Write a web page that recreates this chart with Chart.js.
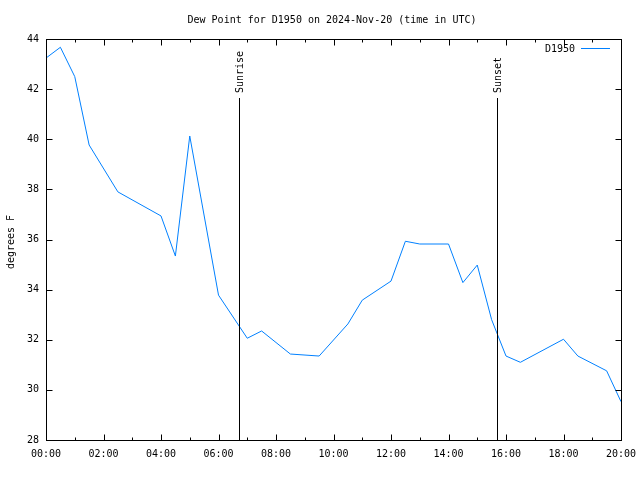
<!DOCTYPE html>
<html>
<head>
<meta charset="utf-8">
<script src="https://cdn.jsdelivr.net/npm/chart.js@4/dist/chart.umd.min.js"></script>
<style>html,body{margin:0;padding:0;background:#fff;}canvas{display:block;}</style>
</head>
<body>
<canvas id="c" width="640" height="480"></canvas>
<script>
// Data (hours since 00:00 UTC, dew point in °F)
const times = [0, 0.5, 1, 1.5, 2.5, 4, 4.5, 5, 6, 7, 7.5, 8.5, 9.5, 10.5, 11, 12, 12.5, 13, 14, 14.5, 15, 15.5, 16, 16.5, 18, 18.5, 19.5, 20];
const dewPoint = [43.24, 43.67, 42.5, 39.77, 37.9, 36.94, 35.34, 40.13, 33.78, 32.06, 32.35, 31.43, 31.35, 32.63, 33.58, 34.34, 35.93, 35.82, 35.82, 34.28, 34.98, 32.8, 31.35, 31.1, 32.02, 31.35, 30.76, 29.53];
const yTicks = [28, 30, 32, 34, 36, 38, 40, 42, 44];
const xTickLabels = ['00:00','02:00','04:00','06:00','08:00','10:00','12:00','14:00','16:00','18:00','20:00'];
const sunEvents = [{label: 'Sunrise', t: 6.713}, {label: 'Sunset', t: 15.69}];
const titleText = 'Dew Point for D1950 on 2024-Nov-20 (time in UTC)';
const seriesName = 'D1950';
const yTitle = 'degrees F';

const FONT = '10px "DejaVu Sans Mono", "Liberation Mono", monospace';
const LINE_COLOR = 'rgb(0,128,255)';

const points = times.map((t, i) => ({x: t, y: dewPoint[i]}));

const overlay = {
  id: 'overlay',
  afterDraw(chart) {
    const ctx = chart.ctx;
    const xs = chart.scales.x, ys = chart.scales.y;
    const L = Math.round(xs.left) + 0.5, R = Math.round(xs.right) + 0.5;
    const T = Math.round(ys.top) + 0.5, B = Math.round(ys.bottom) + 0.5;
    ctx.save();
    ctx.strokeStyle = '#000';
    ctx.lineWidth = 1;
    // ticks
    ctx.beginPath();
    for (let h = 1; h < 20; h++) {
      const px = Math.round(xs.getPixelForValue(h)) + 0.5;
      const len = (h % 2 === 0) ? 6 : 3;
      ctx.moveTo(px, B); ctx.lineTo(px, B - len);
      ctx.moveTo(px, T); ctx.lineTo(px, T + len);
    }
    yTicks.forEach(v => {
      if (v === 28 || v === 44) return;
      const py = Math.round(ys.getPixelForValue(v)) + 0.5;
      ctx.moveTo(L, py); ctx.lineTo(L + 6, py);
      ctx.moveTo(R, py); ctx.lineTo(R - 6, py);
    });
    ctx.stroke();
    // sunrise/sunset
    ctx.font = FONT;
    ctx.fillStyle = '#000';
    sunEvents.forEach(ev => {
      const px = Math.round(xs.getPixelForValue(ev.t)) + 0.5;
      ctx.beginPath();
      ctx.moveTo(px, B); ctx.lineTo(px, 98);
      ctx.stroke();
      ctx.save();
      ctx.translate(px + 1, 93);
      ctx.rotate(-Math.PI / 2);
      ctx.textAlign = 'left';
      ctx.textBaseline = 'middle';
      ctx.fillText(ev.label, 0, 0);
      ctx.restore();
    });
    // border
    ctx.strokeRect(L, T, R - L, B - T);
    // title
    ctx.textAlign = 'center';
    ctx.textBaseline = 'middle';
    ctx.fillText(titleText, 332, 20);
    // y title
    ctx.save();
    ctx.translate(11, 242);
    ctx.rotate(-Math.PI / 2);
    ctx.fillText(yTitle, 0, 0);
    ctx.restore();
    // legend
    ctx.textAlign = 'right';
    ctx.fillText(seriesName, 575, 49);
    ctx.strokeStyle = LINE_COLOR;
    ctx.beginPath();
    ctx.moveTo(581, 48.5); ctx.lineTo(610, 48.5);
    ctx.stroke();
    ctx.restore();
  }
};

new Chart(document.getElementById('c'), {
  type: 'line',
  data: {
    datasets: [{
      label: seriesName,
      data: points,
      borderColor: LINE_COLOR,
      borderWidth: 1,
      pointRadius: 0,
      tension: 0,
      fill: false
    }]
  },
  options: {
    responsive: false,
    animation: false,
    devicePixelRatio: 1,
    layout: {padding: {top: 39, right: 19, left: 0, bottom: 0}},
    plugins: {legend: {display: false}, title: {display: false}, tooltip: {enabled: false}},
    scales: {
      x: {
        type: 'linear', min: 0, max: 20,
        grid: {display: false, drawTicks: false},
        border: {display: false},
        afterFit(s) { s.height = 40; s.paddingLeft = 0; s.paddingRight = 0; },
        ticks: {
          stepSize: 1, autoSkip: false, maxRotation: 0, minRotation: 0,
          padding: 8, color: '#000', font: {family: '"DejaVu Sans Mono"', size: 10},
          callback: v => (v % 2 === 0) ? xTickLabels[v / 2] : ''
        }
      },
      y: {
        type: 'linear', min: 28, max: 44,
        grid: {display: false, drawTicks: false},
        border: {display: false},
        afterFit(s) { s.width = 46; s.paddingTop = 0; s.paddingBottom = 0; },
        ticks: {
          stepSize: 2, padding: 7, color: '#000', font: {family: '"DejaVu Sans Mono"', size: 10},
          callback: v => yTicks.includes(v) ? String(v) : ''
        }
      }
    }
  },
  plugins: [overlay]
});
</script>
</body>
</html>
